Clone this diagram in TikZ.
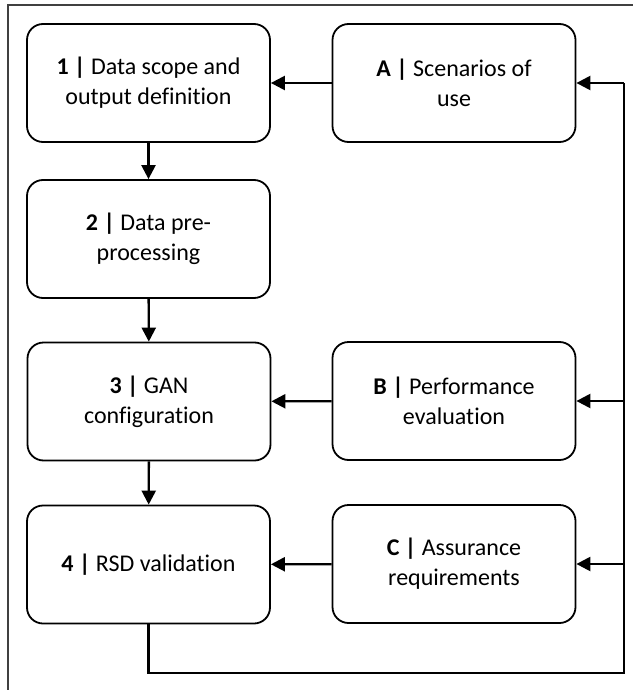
\documentclass[tikz,border=0pt]{standalone}
\usepackage{fontspec}
\setmainfont{Carlito}[Ligatures=NoCommon]
\usetikzlibrary{arrows.meta}
\begin{document}
\begin{tikzpicture}[x=1pt,y=-1pt,
  stage/.style={draw, line width=1.8pt, rounded corners=16pt,
    minimum width=243pt, minimum height=118pt, align=center,
    font=\fontsize{24}{30}\selectfont, inner sep=0pt},
  link/.style={line width=2.4pt},
  arr/.style={link, -{Triangle[length=14pt,width=14pt]}}]
\useasboundingbox (0,0) rectangle (633,690);
% outer frame
\draw[line width=1.3pt, black!75] (8,690) -- (8,5) -- (633,5);

% process stages (left column)
\node[stage] (s1) at (148.5,83) {\textbf{1 |} Data scope and\\output definition};
\node[stage] (s2) at (148.5,239) {\textbf{2 |} Data pre-\\processing};
\node[stage] (s3) at (149,401.5) {\textbf{3 |} GAN\\configuration};
\node[stage] (s4) at (148.5,564.5) {\textbf{4 |} RSD validation};

% supporting inputs (right column)
\node[stage] (sa) at (454,83) {\textbf{A |} Scenarios of\\use};
\node[stage] (sb) at (454,401) {\textbf{B |} Performance\\evaluation};
\node[stage] (sc) at (454,564) {\textbf{C |} Assurance\\requirements};

% main flow
\draw[arr] (s1) -- (s2);
\draw[arr] (s2) -- (s3);
\draw[arr] (s3) -- (s4);
\draw[arr] (sa) -- (s1);
\draw[arr] (sb) -- (s3);
\draw[arr] (sc) -- (s4);

% feedback loop
\coordinate (fa) at (624,83);
\coordinate (fb) at (624,401);
\coordinate (fc) at (624,564);
\coordinate (fl) at (624,673);
\draw[link] (s4.south) |- (fl) -- (fa);
\draw[arr] (fa) -- (sa);
\draw[arr] (fb) -- (sb);
\draw[arr] (fc) -- (sc);
\end{tikzpicture}
\end{document}
